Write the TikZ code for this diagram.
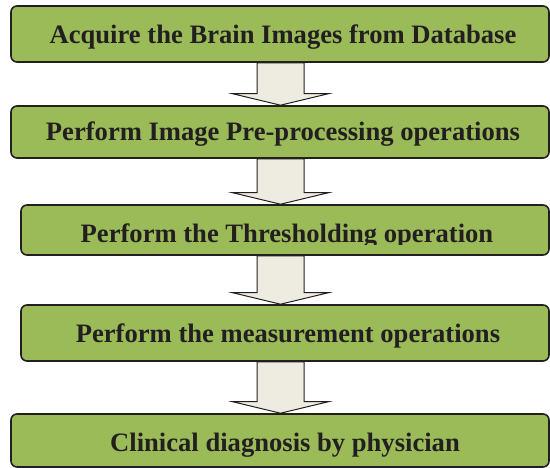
\documentclass[tikz,border=0pt]{standalone}
\usepackage{fontspec}
\setmainfont{Liberation Serif}
\usetikzlibrary{calc,backgrounds}
\definecolor{boxgreen}{HTML}{9BBB59}
\definecolor{arrowfill}{HTML}{EEECE1}
\definecolor{inkdark}{HTML}{231F20}

% block arrow from the bottom of one box to the top of the next
\newcommand\flowstep[2]{%
  \path[flowarrow]
    ($(spine |- #1.south)+(-23.5,0)$) -- ($(spine |- #2.north)+(-23.5,-11.5)$)
    -- ($(spine |- #2.north)+(-48,-11.5)$) -- (spine |- #2.north)
    -- ($(spine |- #2.north)+(48,-11.5)$) -- ($(spine |- #2.north)+(23.5,-11.5)$)
    -- ($(spine |- #1.south)+(23.5,0)$) -- cycle;}

\begin{document}
\begin{tikzpicture}[x=1pt,y=-1pt,
  stepbox/.style={draw=inkdark, line width=1.6pt, fill=boxgreen,
    rounded corners=6pt, inner sep=0pt},
  steptext/.style={anchor=base, inner sep=0pt, text=inkdark,
    font=\fontsize{26.6}{30}\selectfont\bfseries},
  flowarrow/.style={draw=inkdark, line width=1pt, fill=arrowfill,
    line join=miter}]
\useasboundingbox (0,0) rectangle (550,468);

\coordinate (spine) at (280.5,0);

% process boxes
\node[stepbox, minimum width=538pt, minimum height=56pt] (b1) at (280,34) {};
\node[stepbox, minimum width=538pt, minimum height=52pt] (b2) at (280,132) {};
\node[stepbox, minimum width=528pt, minimum height=50pt] (b3) at (285,230) {};
\node[stepbox, minimum width=528pt, minimum height=56pt] (b4) at (285,333) {};
\node[stepbox, minimum width=538pt, minimum height=53pt] (b5) at (280,440.5) {};

% labels
\node[steptext] (t1) at (283,44) {Acquire the Brain Images from Database};
\node[steptext] (t2) at (283,141) {Perform Image Pre-processing operations};
\begin{scope}
  \clip (0,200) rectangle (550,244.5);
  \node[steptext] (t3) at (287,243) {Perform the Thresholding operation};
\end{scope}
\node[steptext] (t4) at (288,343) {Perform the measurement operations};
\node[steptext] (t5) at (285,452) {Clinical diagnosis by physician};

% connectors
\begin{scope}[on background layer]
  \flowstep{b1}{b2}
  \flowstep{b2}{b3}
  \flowstep{b3}{b4}
  \flowstep{b4}{b5}
\end{scope}
\end{tikzpicture}
\end{document}
